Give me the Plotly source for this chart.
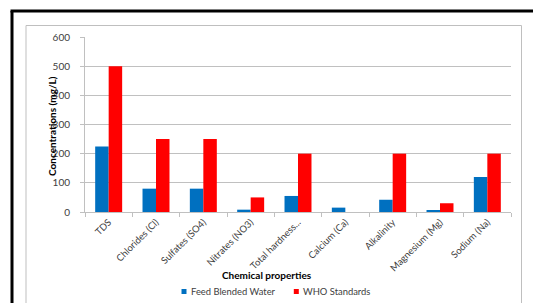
import plotly.graph_objects as go

categories = ["TDS", "Chlorides (Cl)", "Sulfates (SO4)", "Nitrates (NO3)", "Total hardness...",
              "Calcium (Ca)", "Alkalinity", "Magnesium (Mg)", "Sodium (Na)"]
feed_blended = [225, 80, 80, 8, 55, 15, 42, 4, 120]
who_standards = [500, 250, 250, 50, 200, None, 200, 30, 200]
y_ticks = [0, 100, 200, 300, 400, 500, 600]
series_names = ["Feed Blended Water", "WHO Standards"]
series_colors = ["#0070C0", "#FF0000"]

W, H = 533, 303
L, R, T, B = 85, 511, 37, 212
pw, ph = R - L, B - T
def px(x): return (x - L) / pw
def py(y): return (B - y) / ph

FONT = "Lato"
GRID = "#c0c0c0"
TXT = "#404040"

fig = go.Figure()
fig.add_trace(go.Bar(x=categories, y=feed_blended, name=series_names[0],
                     marker=dict(color=series_colors[0], line=dict(width=0))))
fig.add_trace(go.Bar(x=categories, y=who_standards, name=series_names[1],
                     marker=dict(color=series_colors[1], line=dict(width=0))))

shapes = [
    # outer black frame
    dict(type="line", xref="paper", yref="paper", x0=px(12), x1=px(12), y0=py(320), y1=py(11),
         line=dict(color="black", width=3)),
    dict(type="line", xref="paper", yref="paper", x0=px(10.5), x1=px(560), y0=py(11), y1=py(11),
         line=dict(color="black", width=3)),
    # inner gray frame
    dict(type="line", xref="paper", yref="paper", x0=px(26), x1=px(26), y0=py(320), y1=py(25.5),
         line=dict(color="#bfbfbf", width=1)),
    dict(type="line", xref="paper", yref="paper", x0=px(26), x1=px(521.5), y0=py(25.5), y1=py(25.5),
         line=dict(color="#bfbfbf", width=1)),
    dict(type="line", xref="paper", yref="paper", x0=px(521.5), x1=px(521.5), y0=py(25.5), y1=py(320),
         line=dict(color="#bfbfbf", width=1)),
]

# legend (drawn as swatches + text so spacing matches the original)
legend_x = [181.5, 293.8]
annotations = [
    dict(text="<b>Chemical properties</b>", xref="paper", yref="paper",
         x=px(267), y=py(275), xanchor="center", yanchor="middle", showarrow=False,
         font=dict(family=FONT, size=10, color="black")),
    dict(text="<b>Concentrations (mg/L)</b>", xref="paper", yref="paper",
         x=px(52), y=py(126), xanchor="center", yanchor="middle", showarrow=False,
         textangle=-90, font=dict(family=FONT, size=10, color="black")),
]
for name, color, lx in zip(series_names, series_colors, legend_x):
    shapes.append(dict(type="rect", xref="paper", yref="paper",
                       x0=px(lx), x1=px(lx + 5), y0=py(294), y1=py(289),
                       fillcolor=color, line=dict(width=0)))
    annotations.append(dict(text=name, xref="paper", yref="paper",
                            x=px(lx + 7), y=py(291.5), xanchor="left", yanchor="middle",
                            showarrow=False, xshift=0,
                            font=dict(family=FONT, size=9.4, color=TXT)))

fig.update_layout(
    width=W, height=H,
    margin=dict(l=L, r=W - R, t=T, b=H - B, pad=0, autoexpand=False),
    paper_bgcolor="white", plot_bgcolor="white",
    font=dict(family=FONT, size=9, color=TXT),
    barmode="group", bargap=0.43, bargroupgap=0,
    showlegend=False,
    shapes=shapes,
    annotations=annotations,
)
fig.update_xaxes(
    type="category", tickangle=-45, tickson="boundaries",
    ticks="outside", ticklen=4, tickcolor=GRID, showline=True, linecolor=GRID, linewidth=1,
    showgrid=False, tickfont=dict(family=FONT, size=9.5, color=TXT),
)
fig.update_yaxes(
    range=[0, 600], tickvals=y_ticks, showgrid=True, gridcolor=GRID, gridwidth=1,
    ticks="outside", ticklen=4, tickcolor=GRID, showline=True, linecolor=GRID, linewidth=1,
    zeroline=False, tickfont=dict(family=FONT, size=10, color=TXT), ticklabelstandoff=8,
)
fig.write_html("out.html", config={"displayModeBar": False},
               post_script="document.body.style.margin='0';")
